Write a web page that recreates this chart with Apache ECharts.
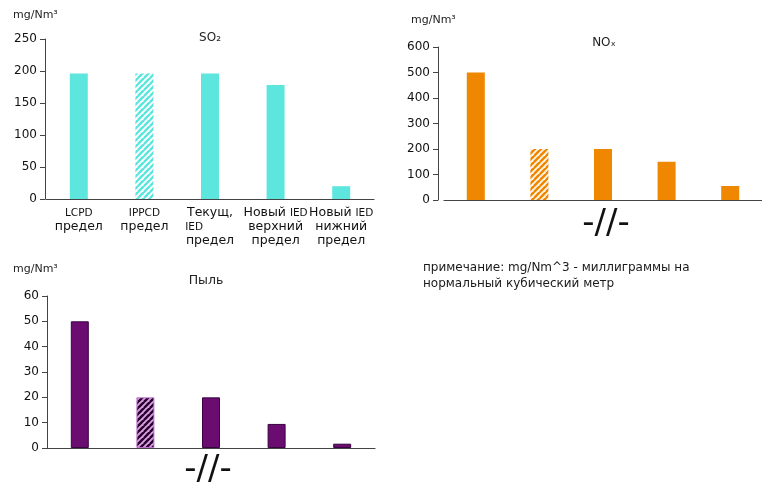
<!DOCTYPE html>
<html><head><meta charset="utf-8">
<script src="https://cdn.jsdelivr.net/npm/echarts@6/dist/echarts.min.js"></script>
<style>html,body{margin:0;padding:0;background:#fff}#c{width:762px;height:485px}</style>
</head><body><div id="c"></div>
<script>
const categories = ['LCPD\nпредел', 'IPPCD\nпредел', 'Текущ,\nIED        \nпредел', 'Новый IED\nверхний\nпредел', 'Новый IED\nнижний\nпредел'];
const so2Values = [196, 196, 196, 178, 20];
const noxValues = [500, 200, 200, 150, 55];
const dustValues = [50, 20, 20, 9.5, 1.7];
const hatchedIndex = 1;
const so2Ticks = {max: 250, interval: 50};
const noxTicks = {max: 600, interval: 100};
const dustTicks = {max: 60, interval: 10};

const FONT = 'DejaVu Sans';
function hatch(fg, bg) {
  const c = document.createElement('canvas');
  c.width = 6; c.height = 6;
  const g = c.getContext('2d');
  g.fillStyle = bg; g.fillRect(0, 0, 6, 6);
  g.strokeStyle = fg; g.lineWidth = 2.2;
  for (let k = -6; k <= 12; k += 6) {
    g.beginPath(); g.moveTo(k - 6, 6); g.lineTo(k + 6, -6); g.stroke();
    g.beginPath(); g.moveTo(k, 6); g.lineTo(k + 6, 0); g.stroke();
  }
  return {image: c, repeat: 'repeat'};
}
const cyan = '#5de6de', orange = '#ef8700', purple = '#6a0c70';

function seriesData(vals, color, hatchColor) {
  return vals.map((v, i) => ({
    value: v,
    itemStyle: i === hatchedIndex ? {color: hatchColor, borderWidth: 0} : {color: color}
  }));
}

const chart = echarts.init(document.getElementById('c'));
const yBase = {
  type: 'value', min: 0,
  axisLine: {show: true, lineStyle: {color: '#444', width: 1}},
  axisTick: {show: true, length: 5, lineStyle: {color: '#444'}},
  splitLine: {show: false},
  axisLabel: {color: '#111', fontSize: 12, fontFamily: FONT, margin: 8}
};
const xBase = {
  type: 'category', data: categories,
  axisLine: {show: true, lineStyle: {color: '#444', width: 1.2}},
  axisTick: {show: false}
};
chart.setOption({
  animation: false,
  grid: [
    {left: 46, top: 39, width: 328, height: 160},
    {left: 444, top: 47, width: 327, height: 153},
    {left: 47, top: 296, width: 328, height: 152}
  ],
  xAxis: [
    Object.assign({}, xBase, {gridIndex: 0, axisLabel: {
      color: '#111', fontSize: 12.5, fontFamily: FONT, lineHeight: 14, margin: 7, interval: 0,
      formatter: v => v.replace(/([A-Z]{3,})/g, '{s|$1}'),
      rich: {s: {fontSize: 10.5, fontFamily: FONT, color: '#111', lineHeight: 14}}
    }}),
    Object.assign({}, xBase, {gridIndex: 1, axisLabel: {show: false}}),
    Object.assign({}, xBase, {gridIndex: 2, axisLabel: {show: false}})
  ],
  yAxis: [
    Object.assign({}, yBase, {gridIndex: 0, max: so2Ticks.max, interval: so2Ticks.interval, offset: 1}),
    Object.assign({}, yBase, {gridIndex: 1, max: noxTicks.max, interval: noxTicks.interval, offset: 6}),
    Object.assign({}, yBase, {gridIndex: 2, max: dustTicks.max, interval: dustTicks.interval, offset: 0})
  ],
  series: [
    {type: 'bar', xAxisIndex: 0, yAxisIndex: 0, barWidth: 18, data: seriesData(so2Values, cyan, hatch(cyan, '#ffffff'))},
    {type: 'bar', xAxisIndex: 1, yAxisIndex: 1, barWidth: 18, data: seriesData(noxValues, orange, hatch(orange, '#fff6ea'))},
    {type: 'bar', xAxisIndex: 2, yAxisIndex: 2, barWidth: 18,
      itemStyle: {borderColor: '#3a0440', borderWidth: 1},
      data: dustValues.map((v, i) => ({value: v, itemStyle: i === hatchedIndex ? {color: hatch('#2a0230', '#d9a0e0'), borderColor: '#c070d0'} : {color: purple}}))}
  ],
  graphic: [
    {type: 'text', left: 13, top: 10, style: {text: 'mg/Nm³', fontSize: 11, fontFamily: FONT, fill: '#222'}},
    {type: 'text', left: 411, top: 15, style: {text: 'mg/Nm³', fontSize: 11, fontFamily: FONT, fill: '#222'}},
    {type: 'text', left: 13, top: 264, style: {text: 'mg/Nm³', fontSize: 11, fontFamily: FONT, fill: '#222'}},
    {type: 'text', x: 210, y: 38, style: {text: 'SO₂', fontSize: 12, fontFamily: FONT, fill: '#222', align: 'center', verticalAlign: 'middle'}},
    {type: 'text', x: 604, y: 43, style: {text: 'NOₓ', fontSize: 12, fontFamily: FONT, fill: '#222', align: 'center', verticalAlign: 'middle'}},
    {type: 'text', x: 206, y: 281, style: {text: 'Пыль', fontSize: 12.5, fontFamily: FONT, fill: '#222', align: 'center', verticalAlign: 'middle'}},
    {type: 'text', x: 606, y: 224, style: {text: '-//-', fontSize: 34, fontFamily: FONT, fill: '#111', align: 'center', verticalAlign: 'middle'}},
    {type: 'text', x: 208, y: 470, style: {text: '-//-', fontSize: 34, fontFamily: FONT, fill: '#111', align: 'center', verticalAlign: 'middle'}},
    {type: 'text', left: 423, top: 260, style: {text: 'примечание: mg/Nm^3 - миллиграммы на\nнормальный кубический метр', fontSize: 12, lineHeight: 16, fontFamily: FONT, fill: '#1a1a1a'}}
  ]
});
</script></body></html>
